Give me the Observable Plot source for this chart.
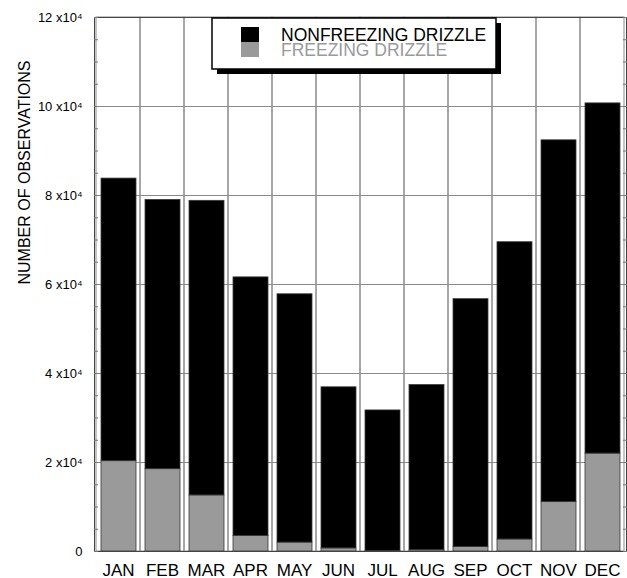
<!DOCTYPE html>
<html>
<head>
<meta charset="utf-8">
<script src="https://cdn.jsdelivr.net/npm/d3@7"></script>
<script src="https://cdn.jsdelivr.net/npm/@observablehq/plot@0.6"></script>
<style>
  body { margin: 0; background: #fff; }
  #chart { position: relative; width: 627px; height: 578px; font-family: "Liberation Sans", Arial, Helvetica, sans-serif; }
  #chart > svg:first-child { display: block; }
  #legend { position: absolute; left: 209px; top: 15px; }
</style>
</head>
<body>
<div id="chart"></div>
<script>
// Monthly drizzle observation counts
const months = ["JAN", "FEB", "MAR", "APR", "MAY", "JUN", "JUL", "AUG", "SEP", "OCT", "NOV", "DEC"];
const freezing = [20300, 18500, 12600, 3500, 2000, 700, 150, 300, 1000, 2700, 11100, 22000];
const nonfreezing = [63500, 60500, 66200, 58100, 55800, 36200, 31550, 37100, 55700, 66800, 81300, 78700];

const seriesNames = ["FREEZING DRIZZLE", "NONFREEZING DRIZZLE"];
const seriesColors = ["#9a9a9a", "#000000"];
const yTitle = "NUMBER OF OBSERVATIONS";

const yMajorTicks = [0, 20000, 40000, 60000, 80000, 100000, 120000];
const yMinorTicks = d3.range(0, 120001, 5000);
const yMax = 120000;

const fontFamily = '"Liberation Sans", Arial, Helvetica, sans-serif';

// long table: freezing first so it sits at the bottom of each stack
const rows = [];
months.forEach((m, i) => {
  rows.push({month: m, type: seriesNames[0], count: freezing[i]});
  rows.push({month: m, type: seriesNames[1], count: nonfreezing[i]});
});

const fmt = d => d === 0 ? "0" : `${d / 10000} x10\u2074`;

const chart = Plot.plot({
  width: 627,
  height: 578,
  marginLeft: 94,
  marginRight: 1,
  marginTop: 17,
  marginBottom: 27,
  style: {fontFamily, background: "#fff", color: "#000", overflow: "visible"},
  x: {domain: months, paddingInner: 0, paddingOuter: 0, axis: null},
  y: {domain: [0, yMax], axis: null},
  color: {domain: seriesNames, range: seriesColors},
  marks: [
    // month separators
    Plot.barY(months, {x: d => d, y1: 0, y2: yMax, fill: "none", stroke: "#8a8a8a", strokeWidth: 1}),
    Plot.gridY(yMajorTicks, {stroke: "#8a8a8a", strokeOpacity: 1}),
    Plot.barY(rows, Plot.stackY({
      x: "month", y: "count", fill: "type",
      insetLeft: 5, insetRight: 4,
      stroke: "#3a3a3a", strokeWidth: 0.8
    })),
    Plot.frame({stroke: "#444", strokeWidth: 1}),
    // inward minor ticks on both sides
    Plot.axisY(yMinorTicks, {anchor: "left", tickSize: -4, tickFormat: () => "", stroke: "#777", label: null}),
    Plot.axisY(yMinorTicks, {anchor: "right", tickSize: -4, tickFormat: () => "", stroke: "#777", label: null}),
    // y tick labels
    Plot.text(yMajorTicks, {
      y: d => d, text: fmt, frameAnchor: "left", textAnchor: "end", dx: -12,
      fontSize: 13, fontFamily, fill: "#000"
    }),
    // month labels
    Plot.text(months, {
      x: d => d, text: d => d, frameAnchor: "bottom", lineAnchor: "top", dy: 12.5,
      fontSize: 17, fontFamily, fill: "#000"
    }),
    // y title
    Plot.text([yTitle], {
      text: d => d, frameAnchor: "left", rotate: -90, dx: -69.5,
      fontSize: 16, fontFamily, fill: "#000"
    })
  ]
});

const holder = document.getElementById("chart");
holder.appendChild(chart);

// legend box with drop shadow, nonfreezing listed first
const lg = d3.select(holder).append("svg")
  .attr("id", "legend")
  .attr("width", 296)
  .attr("height", 62)
  .style("font-family", fontFamily);
lg.append("rect").attr("x", 8).attr("y", 8).attr("width", 284).attr("height", 51).attr("fill", "#000");
lg.append("rect").attr("x", 3).attr("y", 3).attr("width", 284).attr("height", 51)
  .attr("fill", "#fff").attr("stroke", "#000").attr("stroke-width", 1.5);
const legendOrder = [1, 0];
legendOrder.forEach((s, j) => {
  lg.append("rect").attr("x", 32).attr("y", 12 + j * 15).attr("width", 18).attr("height", 15)
    .attr("fill", seriesColors[s]);
  lg.append("text").attr("x", 72).attr("y", 26 + j * 15)
    .attr("font-size", 17.5)
    .attr("fill", s === 0 ? seriesColors[0] : "#000")
    .text(seriesNames[s]);
});
</script>
</body>
</html>
